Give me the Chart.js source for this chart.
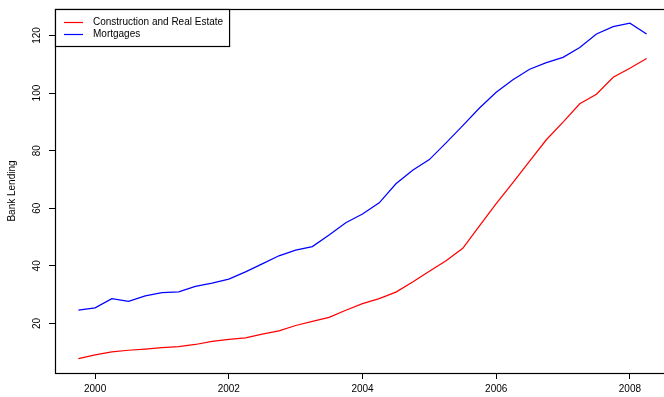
<!DOCTYPE html>
<html>
<head>
<meta charset="utf-8">
<script src="https://cdn.jsdelivr.net/npm/chart.js@4/dist/chart.umd.min.js"></script>
<style>
  html, body { margin: 0; padding: 0; background: #fff; overflow: hidden; }
  #wrap { width: 672px; height: 397px; position: relative; }
</style>
</head>
<body>
<div id="wrap"><canvas id="c"></canvas></div>
<script>
// Quarterly periods as decimal years (1999 Q4 .. 2008 Q2)
const periods = [
  1999.75, 2000.00, 2000.25, 2000.50, 2000.75, 2001.00, 2001.25, 2001.50, 2001.75,
  2002.00, 2002.25, 2002.50, 2002.75, 2003.00, 2003.25, 2003.50, 2003.75,
  2004.00, 2004.25, 2004.50, 2004.75, 2005.00, 2005.25, 2005.50, 2005.75,
  2006.00, 2006.25, 2006.50, 2006.75, 2007.00, 2007.25, 2007.50, 2007.75,
  2008.00, 2008.25
];

const constructionRealEstate = [
  7.8, 9.1, 10.1, 10.7, 11.1, 11.6, 12.0, 12.7, 13.8,
  14.5, 15.0, 16.3, 17.4, 19.3, 20.7, 22.1, 24.6,
  26.9, 28.6, 30.9, 34.4, 38.1, 41.8, 46.1, 53.9,
  61.6, 68.9, 76.4, 83.8, 89.9, 96.3, 99.6, 105.5,
  108.6, 112.0
];

const mortgages = [
  24.6, 25.4, 28.6, 27.7, 29.6, 30.7, 31.0, 32.9, 34.0,
  35.4, 37.9, 40.7, 43.5, 45.5, 46.7, 50.7, 55.0,
  58.0, 61.9, 68.5, 73.2, 76.9, 82.7, 88.7, 94.8,
  100.3, 104.6, 108.3, 110.6, 112.4, 115.8, 120.5, 123.1,
  124.3, 120.5
];

const seriesNames = ['Construction and Real Estate', 'Mortgages'];
const yearTicks = [2000, 2002, 2004, 2006, 2008];
const lendingTicks = [20, 40, 60, 80, 100, 120];
const yTitle = 'Bank Lending';

const FONT = '"Liberation Sans", Arial, Helvetica, sans-serif';

function toPoints(values) {
  return values.map((v, i) => ({ x: periods[i], y: v }));
}

// Box around the plotting region plus a framed legend in its top-left corner
const frameAndLegend = {
  id: 'frameAndLegend',
  afterDraw(chart) {
    const { ctx, chartArea: a } = chart;
    ctx.save();
    ctx.strokeStyle = '#000';
    ctx.lineWidth = 1.2;
    ctx.strokeRect(a.left + 0.5, a.top + 0.5, a.right - a.left - 1, a.bottom - a.top);

    const ds = chart.data.datasets;
    ctx.font = '10px ' + FONT;
    let textW = 0;
    ds.forEach(d => { textW = Math.max(textW, ctx.measureText(d.label).width); });
    const x0 = a.left, y0 = a.top;
    const w = 38 + textW + 6;
    const rowH = 12.3;
    const h = 37;
    ctx.fillStyle = '#fff';
    ctx.fillRect(x0 + 0.5, y0 + 0.5, w, h);
    ctx.strokeRect(x0 + 0.5, y0 + 0.5, w, h);
    ctx.lineWidth = 1.2;
    ds.forEach((d, i) => {
      const yy = y0 + 13 + i * rowH;
      ctx.strokeStyle = d.borderColor;
      ctx.beginPath();
      ctx.moveTo(x0 + 9, Math.round(yy) + 0.5);
      ctx.lineTo(x0 + 28, Math.round(yy) + 0.5);
      ctx.stroke();
      ctx.fillStyle = '#000';
      ctx.textBaseline = 'middle';
      ctx.textAlign = 'left';
      ctx.fillText(d.label, x0 + 38, yy);
    });
    ctx.restore();
  }
};

new Chart(document.getElementById('c'), {
  type: 'line',
  data: {
    datasets: [
      { label: seriesNames[0], data: toPoints(constructionRealEstate), borderColor: '#FF0000', borderWidth: 1.25, pointRadius: 0, tension: 0, fill: false },
      { label: seriesNames[1], data: toPoints(mortgages), borderColor: '#0000FF', borderWidth: 1.25, pointRadius: 0, tension: 0, fill: false }
    ]
  },
  options: {
    responsive: true,
    maintainAspectRatio: false,
    animation: false,
    devicePixelRatio: 1,
    layout: { padding: { top: 7, right: 2, left: 0, bottom: 0 } },
    plugins: { legend: { display: false }, tooltip: { enabled: false } },
    scales: {
      x: {
        type: 'linear',
        min: 1999.4,
        max: 2008.6,
        afterBuildTicks: s => { s.ticks = yearTicks.map(v => ({ value: v })); },
        afterFit: s => { s.height = 24; },
        border: { display: false },
        grid: { drawOnChartArea: false, drawTicks: true, tickLength: 6, color: '#000', lineWidth: 1 },
        ticks: {
          autoSkip: false, maxRotation: 0, minRotation: 0, padding: 4,
          color: '#000', font: { family: FONT, size: 10 },
          callback: v => String(v)
        }
      },
      y: {
        type: 'linear',
        min: 2.8,
        max: 129.2,
        afterBuildTicks: s => { s.ticks = lendingTicks.map(v => ({ value: v })); },
        afterFit: s => { s.width = 55; },
        border: { display: false },
        grid: { drawOnChartArea: false, drawTicks: true, tickLength: 6, color: '#000', lineWidth: 1 },
        ticks: {
          autoSkip: false, minRotation: 90, maxRotation: 90, crossAlign: 'center', padding: 3,
          color: '#000', font: { family: FONT, size: 10 },
          callback: v => String(v)
        },
        title: {
          display: true, text: yTitle, color: '#000',
          font: { family: FONT, size: 10 },
          padding: { top: 6, bottom: 0 }
        }
      }
    }
  },
  plugins: [frameAndLegend]
});
</script>
</body>
</html>
